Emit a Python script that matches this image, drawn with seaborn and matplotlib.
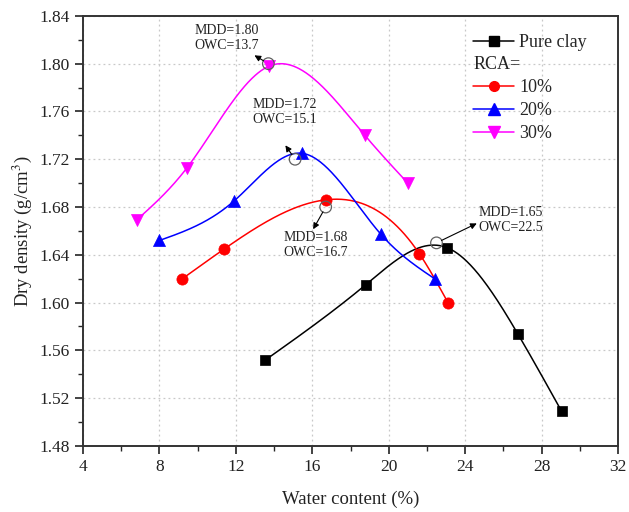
import numpy as np
import pandas as pd
import matplotlib
matplotlib.use("Agg")
import matplotlib.pyplot as plt
from matplotlib.lines import Line2D
import seaborn as sns

# Compaction test results: water content (%) and dry density (g/cm3)
clay_w = [13.55, 18.8, 23.05, 26.75, 29.05]
clay_d = [1.552, 1.615, 1.646, 1.574, 1.509]

rca10_w = [9.2, 11.4, 16.7, 21.6, 23.1]
rca10_d = [1.620, 1.645, 1.686, 1.641, 1.600]

rca20_w = [8.0, 11.9, 15.45, 19.6, 22.4]
rca20_d = [1.652, 1.685, 1.725, 1.657, 1.620]

rca30_w = [6.8, 9.45, 13.75, 18.75, 21.0]
rca30_d = [1.669, 1.713, 1.798, 1.740, 1.700]

series_names = ["Pure clay", "10%", "20%", "30%"]

# Maximum dry density / optimum water content of each mix
mdd = [1.65, 1.68, 1.72, 1.80]
owc = [22.5, 16.7, 15.1, 13.7]

x_ticks = [4, 8, 12, 16, 20, 24, 28, 32]
y_ticks = [1.48, 1.52, 1.56, 1.60, 1.64, 1.68, 1.72, 1.76, 1.80, 1.84]


def natural_spline(x, y, n=300):
    """Natural cubic spline through (x, y), evaluated on n points."""
    x = np.asarray(x, float)
    y = np.asarray(y, float)
    m = len(x)
    h = np.diff(x)
    A = np.zeros((m, m))
    r = np.zeros(m)
    A[0, 0] = 1.0
    A[-1, -1] = 1.0
    for i in range(1, m - 1):
        A[i, i - 1] = h[i - 1]
        A[i, i] = 2 * (h[i - 1] + h[i])
        A[i, i + 1] = h[i]
        r[i] = 6 * ((y[i + 1] - y[i]) / h[i] - (y[i] - y[i - 1]) / h[i - 1])
    M = np.linalg.solve(A, r)
    xs = np.linspace(x[0], x[-1], n)
    ys = np.empty_like(xs)
    for k, xv in enumerate(xs):
        i = min(np.searchsorted(x, xv, side="right") - 1, m - 2)
        t0 = x[i + 1] - xv
        t1 = xv - x[i]
        ys[k] = (M[i] * t0 ** 3 + M[i + 1] * t1 ** 3) / (6 * h[i]) \
            + (y[i] / h[i] - M[i] * h[i] / 6) * t0 \
            + (y[i + 1] / h[i] - M[i + 1] * h[i] / 6) * t1
    return xs, ys


sns.set_theme(style="ticks")
plt.rcParams["font.family"] = ["Liberation Serif", "DejaVu Serif"]
plt.rcParams["mathtext.fontset"] = "stix"

fig, ax = plt.subplots(figsize=(6.29, 5.12), dpi=100)
fig.subplots_adjust(left=0.132, right=0.9825, bottom=0.129, top=0.969)

styles = [
    dict(color="black", marker="s", s=55),
    dict(color="#ff0000", marker="o", s=65),
    dict(color="#0000ff", marker="^", s=75),
    dict(color="#ff00ff", marker="v", s=75),
]
data = [(clay_w, clay_d), (rca10_w, rca10_d), (rca20_w, rca20_d), (rca30_w, rca30_d)]

for name, (w, d), st in zip(series_names, data, styles):
    xs, ys = natural_spline(w, d)
    curve = pd.DataFrame({"w": xs, "d": ys})
    sns.lineplot(data=curve, x="w", y="d", ax=ax, color=st["color"], lw=1.1,
                 sort=False, estimator=None, zorder=3)
    pts = pd.DataFrame({"w": w, "d": d})
    sns.scatterplot(data=pts, x="w", y="d", ax=ax, color=st["color"],
                    marker=st["marker"], s=st["s"], edgecolor=st["color"],
                    linewidth=0.5, zorder=4)

# Optimum points: open circles with labelled arrows
sns.scatterplot(x=owc, y=mdd, ax=ax, marker="o", s=70, facecolor="none",
                edgecolor="#606060", linewidth=0.9, zorder=5)

label_pos = [(26.4, 1.6691), (16.2, 1.6482), (14.58, 1.7595), (11.54, 1.8214)]
arrow_offset = [(29, 14), (-9, -16), (-7, 10), (-10, 6)]  # in points
for m_, o_, (tx, ty), off in zip(mdd, owc, label_pos, arrow_offset):
    ax.text(tx, ty, f"MDD={m_:.2f}\nOWC={o_:.1f}", ha="center", va="center",
            fontsize=10, linespacing=1.25, color="#222222", zorder=6)
    ax.annotate("", xy=(o_, m_), xytext=off, textcoords="offset points",
                arrowprops=dict(arrowstyle="<|-", color="black", lw=0.8,
                                mutation_scale=9, shrinkA=0, shrinkB=4),
                zorder=6)

ax.set_xlim(4, 32)
ax.set_ylim(1.48, 1.84)
ax.set_xticks(x_ticks)
ax.set_yticks(y_ticks)
ax.set_xticklabels([str(v) for v in x_ticks])
ax.set_yticklabels([f"{v:.2f}" for v in y_ticks])
ax.set_xticks(np.arange(6, 32, 4), minor=True)
ax.set_yticks(np.arange(1.50, 1.84, 0.04), minor=True)
ax.tick_params(axis="both", which="major", direction="out", length=6, width=1.2,
               labelsize=12.5, colors="#222222", top=False, right=False)
ax.tick_params(axis="both", which="minor", direction="out", length=3.5, width=1.0,
               top=False, right=False)
for sp in ax.spines.values():
    sp.set_linewidth(1.4)
    sp.set_color("#333333")
    sp.set_visible(True)

ax.grid(True, which="major", linestyle=(0, (1.5, 2.5)), color="#c8c8c8", lw=0.9)
ax.set_axisbelow(True)

ax.set_xlabel("Water content (%)", fontsize=13.5, labelpad=11, color="#222222")
ax.set_ylabel("Dry density (g/cm$^3$)", fontsize=13.5, labelpad=4, color="#222222")

# Legend with a gap for the "RCA=" heading
handles = [
    Line2D([], [], color="black", marker="s", markersize=7, lw=1.1),
    Line2D([], [], color="none"),
    Line2D([], [], color="#ff0000", marker="o", markersize=7, lw=1.1),
    Line2D([], [], color="#0000ff", marker="^", markersize=8, lw=1.1),
    Line2D([], [], color="#ff00ff", marker="v", markersize=8, lw=1.1),
]
labels = ["Pure clay", " ", "10%", "20%", "30%"]
leg = ax.legend(handles, labels, loc="upper left", bbox_to_anchor=(0.716, 0.975),
                frameon=False, fontsize=13, handlelength=2.25, handletextpad=0.3,
                labelspacing=0.32, borderaxespad=0)
ax.text(0.729, 0.886, "RCA=", transform=ax.transAxes, fontsize=13,
        ha="left", va="center", color="#222222")

fig.savefig("out.png", dpi=100)
